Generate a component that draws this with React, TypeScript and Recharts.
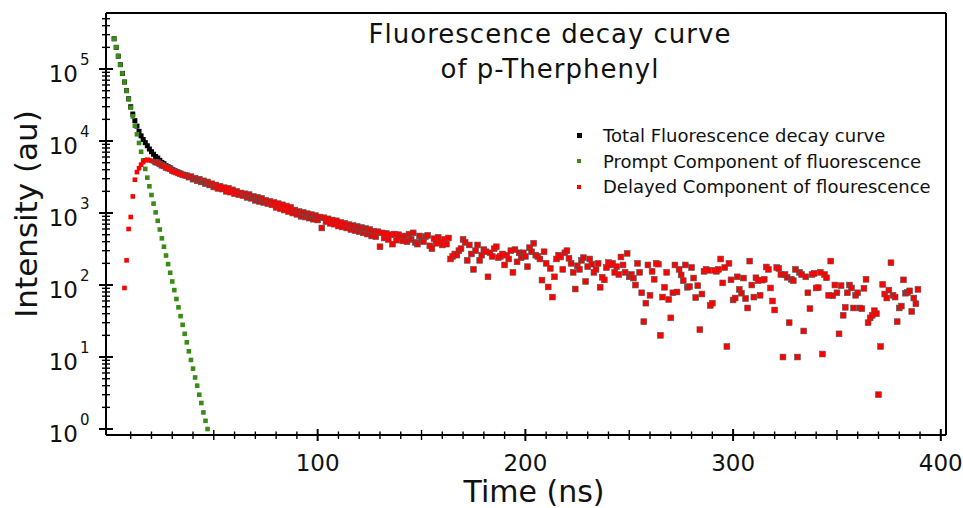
import React from "react";
import {
    ScatterChart,
    Scatter,
    XAxis,
    YAxis,
    Legend,
    ReferenceLine,
} from "recharts";

const FONT = '"DejaVu Sans", "Open Sans", sans-serif';
const INK = "#111";

// first time (ns) of each series; one sample per ns after that
const totalStart = 2;
const promptStart = 2;
const delayedStart = 7;

const seriesNames = [
    "Total Fluorescence decay curve",
    "Prompt Component of fluorescence",
    "Delayed Component of flourescence",
];

// Total Fluorescence decay curve (only the part not hidden under the components)
const totalCounts = [
    263000, 200000, 151000, 115000, 87000, 66000, 50000, 38600, 29900, 23700,
    19200, 16100, 13600, 11800, 10500, 9500, 8600, 7750, 7100, 6550,
    6100, 5800, 5400, 5050, 4850, 4550, 4400, 4250, 4000, 3900,
    3750, 3650, 3550, 3430,
];

// Prompt Component of fluorescence
const promptCounts = [
    263000, 200000, 151000, 115000, 87000, 66000, 50000, 38000, 29000, 22000,
    16300, 12400, 9400, 7100, 5400, 4100, 3100, 2350, 1780, 1350,
    1020, 780, 590, 445, 340, 257, 195, 148, 112, 85,
    64, 49, 37, 28, 21, 16, 12, 9.1, 6.9, 5.2,
    4.0, 3.0, 2.3, 1.7, 1.3, 1.0,
];

// Delayed Component of flourescence
const delayedCounts = [
    91, 220, 600, 880, 1700, 2900, 3700, 4200, 4700, 5100,
    5400, 5500, 5400, 5300, 5200, 5100, 5000, 4800, 4600, 4500,
    4300, 4200, 4100, 3900, 3800, 3700, 3600, 3500, 3400, 3350,
    3300, 3150, 3200, 2950, 3050, 2800, 2950, 2700, 2800, 2550,
    2700, 2450, 2550, 2300, 2450, 2200, 2350, 2150, 2250, 2000,
    2200, 1950, 2100, 1850, 2000, 1800, 1900, 1750, 1850, 1650,
    1800, 1600, 1700, 1500, 1650, 1450, 1600, 1400, 1500, 1350,
    1450, 1300, 1400, 1200, 1350, 1150, 1300, 1100, 1250, 1050,
    1200, 1000, 1100, 960, 1050, 900, 1020, 880, 980, 850,
    950, 820, 920, 800, 880, 620, 860, 760, 830, 720,
    800, 700, 780, 660, 740, 640, 720, 620, 690, 590,
    670, 570, 650, 550, 630, 530, 610, 510, 590, 480,
    560, 470, 550, 340, 530, 450, 520, 430, 500, 370,
    510, 420, 500, 460, 410, 480, 400, 510, 430, 530,
    390, 370, 480, 420, 400, 470, 490, 350, 320, 440,
    380, 460, 390, 360, 430, 370, 450, 230, 250, 270,
    260, 300, 320, 430, 390, 220, 360, 270, 165, 300,
    360, 220, 260, 310, 290, 130, 280, 250, 320, 340,
    240, 250, 270, 190, 260, 230, 300, 150, 310, 210,
    280, 240, 280, 250, 180, 330, 290, 380, 260, 250,
    230, 117, 290, 200, 94, 170, 68, 130, 230, 260,
    245, 165, 280, 300, 235, 200, 150, 88, 185, 165,
    220, 240, 112, 180, 230, 195, 150, 165, 200, 93,
    128, 118, 175, 205, 190, 200, 150, 180, 140, 245,
    190, 150, 275, 130, 140, 125, 100, 200, 150, 78,
    31, 56, 190, 72, 155, 120, 200, 195, 20, 68,
    93, 150, 63, 35, 78, 190, 80, 165, 138, 115,
    190, 93, 95, 175, 125, 67, 98, 24, 75, 155,
    165, 160, 52, 56, 160, 155, 165, 230, 107, 175,
    14, 200, 118, 62, 66, 130, 87, 77, 125, 65,
    48, 215, 100, 68, 126, 115, 72, 117, 120, 178,
    165, 91, 60, 45, 175, 170, 140, 10, 140, 128,
    30, 120, 115, 165, 10, 150, 140, 23, 130, 78,
    47, 140, 145, 91, 92, 150, 11, 140, 126, 72,
    215, 71, 100, 78, 21, 98, 38, 49, 78, 100,
    91, 48, 72, 78, 48, 47, 90, 120, 30, 35,
    38, 44, 40, 3, 14, 102, 75, 66, 85, 204,
    72, 68, 31, 48, 51, 118, 77, 79, 83, 43,
    66, 55, 87,
];

const timeDomain = [-1.9, 402.5];
const timeTicks = [
    10, 20, 30, 40, 50, 60, 70, 80, 90, 100,
    110, 120, 130, 140, 150, 160, 170, 180, 190, 200,
    210, 220, 230, 240, 250, 260, 270, 280, 290, 300,
    310, 320, 330, 340, 350, 360, 370, 380, 390, 400,
];

const intensityDomain = [0.826, 600000];
const intensityDecades = [1, 10, 100, 1000, 10000, 100000];
const intensityMultipliers = [1, 2, 3, 4, 5, 6, 7, 8, 9];
const intensityTicks = intensityDecades
    .flatMap((d) => intensityMultipliers.map((m) => m * d))
    .filter((v) => v <= 500000);

const toPoints = (start: number, counts: number[]) =>
    counts.map((v, i) => ({ t: start + i, v }));

const totalData = toPoints(totalStart, totalCounts);
const promptData = toPoints(promptStart, promptCounts);
const delayedData = toPoints(delayedStart, delayedCounts);

// eslint-disable-next-line @typescript-eslint/no-explicit-any
const TimeTick = (props: any) => {
    const { x, y, payload } = props;
    const value = payload.value as number;
    const major = value % 100 === 0;
    const mid = !major && value % 50 === 0;
    const up = major ? 6 : mid ? 5 : 3.5;
    const down = major ? 6 : mid ? 5 : 4;
    return (
        <g>
            <line
                x1={x}
                x2={x}
                y1={y - up}
                y2={y + down}
                stroke="#000"
                strokeWidth={major ? 2 : 1.4}
            />
            {major && (
                <text
                    x={x}
                    y={y + 36}
                    textAnchor="middle"
                    fontSize={23}
                    fontFamily={FONT}
                    fill={INK}
                >
                    {value}
                </text>
            )}
        </g>
    );
};

// eslint-disable-next-line @typescript-eslint/no-explicit-any
const IntensityTick = (props: any) => {
    const { x, y, payload } = props;
    const value = payload.value as number;
    const exp = Math.round(Math.log10(value));
    const major = Math.abs(Math.log10(value) - exp) < 1e-9;
    const len = major ? 7 : 4;
    return (
        <g>
            <line
                x1={x - len}
                x2={x + len}
                y1={y}
                y2={y}
                stroke="#000"
                strokeWidth={major ? 2 : 1.4}
            />
            {major && (
                <g fontFamily={FONT} fill={INK}>
                    <text x={x - 28} y={y + 13} textAnchor="end" fontSize={23}>
                        10
                    </text>
                    <text x={x - 26} y={y - 4} textAnchor="start" fontSize={15}>
                        {exp}
                    </text>
                </g>
            )}
        </g>
    );
};

// eslint-disable-next-line @typescript-eslint/no-explicit-any
const TimeLabel = ({ viewBox }: any) => (
    <text
        x={viewBox.x + viewBox.width / 2 + 8}
        y={viewBox.y + 67}
        textAnchor="middle"
        fontSize={30}
        fontFamily={FONT}
        fill={INK}
    >
        Time (ns)
    </text>
);

// eslint-disable-next-line @typescript-eslint/no-explicit-any
const IntensityLabel = ({ viewBox }: any) => {
    const cx = viewBox.x + 37;
    const cy = viewBox.y + viewBox.height / 2 - 10;
    return (
        <text
            x={cx}
            y={cy}
            transform={`rotate(-90 ${cx} ${cy})`}
            textAnchor="middle"
            fontSize={31}
            fontFamily={FONT}
            fill={INK}
        >
            Intensity (au)
        </text>
    );
};

const squareShape =
    (size: number, fill: string) =>
    // eslint-disable-next-line @typescript-eslint/no-explicit-any
    (props: any) => {
        const { cx, cy } = props;
        if (cx == null || cy == null) return <g />;
        return (
            <rect
                x={cx - size / 2}
                y={cy - size / 2}
                width={size}
                height={size}
                fill={fill}
            />
        );
    };

// the later delayed points sit on top of the total curve, which gives them a dark rim
// eslint-disable-next-line @typescript-eslint/no-explicit-any
const delayedShape = (props: any) => {
    const { cx, cy, payload } = props;
    if (cx == null || cy == null) return <g />;
    const rimmed = payload.t >= 22;
    const size = rimmed ? 5.8 : 4.6;
    return (
        <rect
            x={cx - size / 2}
            y={cy - size / 2}
            width={size}
            height={size}
            fill="#ff0000"
            stroke={rimmed ? "#555" : "none"}
            strokeWidth={0.6}
        />
    );
};

const markerSizes = [5, 4.2, 4.2];

// eslint-disable-next-line @typescript-eslint/no-explicit-any
const LegendBox = ({ payload }: any) => {
    // eslint-disable-next-line @typescript-eslint/no-explicit-any
    const items = [...(payload || [])].sort(
        (a: any, b: any) =>
            seriesNames.indexOf(a.value) - seriesNames.indexOf(b.value),
    );
    return (
        <div style={{ fontFamily: FONT, fontSize: 18, color: INK }}>
            {/* eslint-disable-next-line @typescript-eslint/no-explicit-any */}
            {items.map((entry: any, index: number) => (
                <div
                    key={`legend-${index}`}
                    style={{
                        display: "flex",
                        alignItems: "center",
                        height: 25.5,
                        lineHeight: "25.5px",
                        whiteSpace: "nowrap",
                    }}
                >
                    <span
                        style={{
                            display: "inline-block",
                            width: markerSizes[index],
                            height: markerSizes[index],
                            background: entry.color,
                            marginRight: 26 - markerSizes[index],
                        }}
                    />
                    <span>{entry.value}</span>
                </div>
            ))}
        </div>
    );
};

export default function App() {
    return (
        <div
            style={{
                position: "absolute",
                left: 0,
                top: 0,
                width: 963,
                height: 508,
                background: "#fff",
            }}
        >
            <ScatterChart
                width={963}
                height={508}
                margin={{ top: 13, right: 17, bottom: 0, left: 0 }}
            >
                <XAxis
                    type="number"
                    dataKey="t"
                    domain={timeDomain}
                    allowDataOverflow
                    ticks={timeTicks}
                    interval={0}
                    tick={TimeTick}
                    tickLine={false}
                    tickSize={0}
                    tickMargin={0}
                    height={73}
                    axisLine={{ stroke: "#000", strokeWidth: 2 }}
                    label={TimeLabel}
                />
                <YAxis
                    type="number"
                    dataKey="v"
                    scale="log"
                    domain={intensityDomain}
                    allowDataOverflow
                    ticks={intensityTicks}
                    interval={0}
                    tick={IntensityTick}
                    tickLine={false}
                    tickSize={0}
                    tickMargin={0}
                    width={106}
                    axisLine={{ stroke: "#000", strokeWidth: 2 }}
                    label={IntensityLabel}
                />
                {/* top and right edges of the frame */}
                <ReferenceLine
                    y={intensityDomain[1]}
                    stroke="#000"
                    strokeWidth={2}
                    ifOverflow="visible"
                />
                <ReferenceLine
                    x={timeDomain[1]}
                    stroke="#000"
                    strokeWidth={2}
                    ifOverflow="visible"
                />
                <Legend
                    layout="vertical"
                    align="center"
                    verticalAlign="middle"
                    wrapperStyle={{ left: 577, top: 123, width: 380 }}
                    content={LegendBox}
                />
                <Scatter
                    name={seriesNames[0]}
                    data={totalData}
                    fill="#000000"
                    shape={squareShape(5, "#000000")}
                    isAnimationActive={false}
                />
                <Scatter
                    name={seriesNames[1]}
                    data={promptData}
                    fill="#3a8c17"
                    shape={squareShape(4.6, "#3a8c17")}
                    isAnimationActive={false}
                />
                <Scatter
                    name={seriesNames[2]}
                    data={delayedData}
                    fill="#ff0000"
                    shape={delayedShape}
                    isAnimationActive={false}
                />
            </ScatterChart>
            <div
                style={{
                    position: "absolute",
                    left: 350,
                    top: 16.5,
                    width: 400,
                    textAlign: "center",
                    fontFamily: FONT,
                    fontSize: 26,
                    lineHeight: "35px",
                    letterSpacing: 1,
                    color: INK,
                    pointerEvents: "none",
                }}
            >
                <div>Fluorescence decay curve</div>
                <div>of p-Therphenyl</div>
            </div>
        </div>
    );
}
